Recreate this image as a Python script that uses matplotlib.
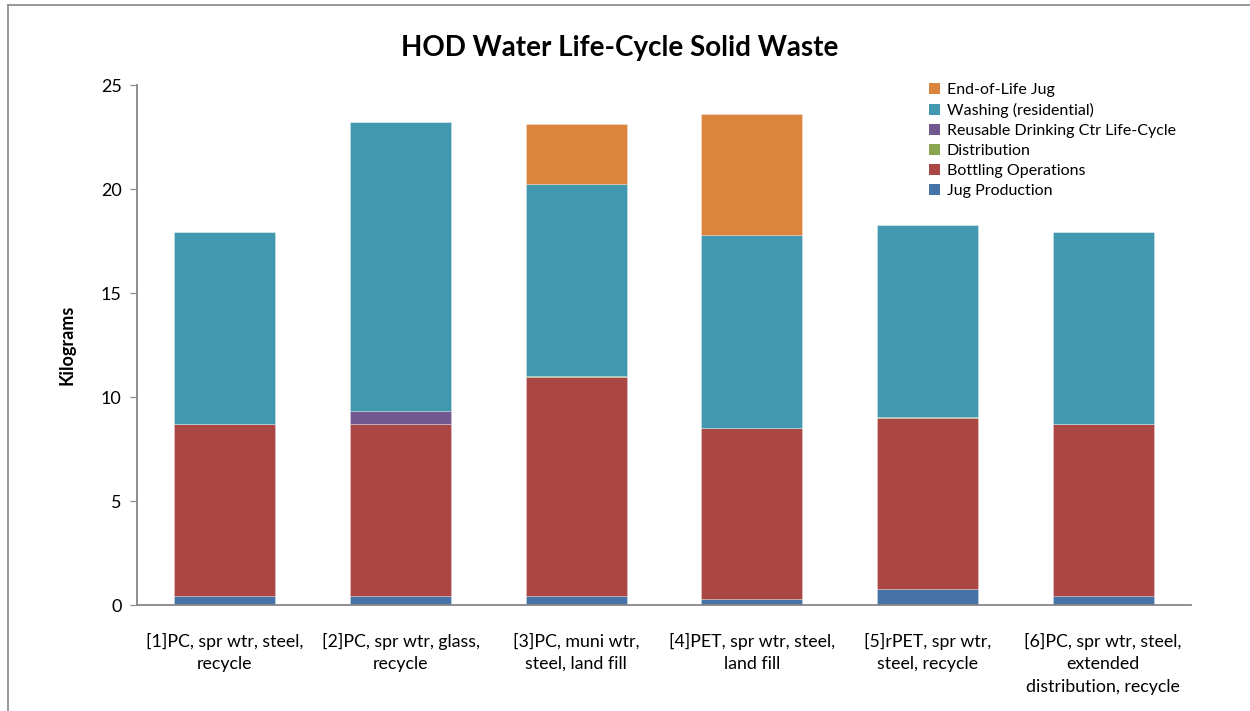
import matplotlib
matplotlib.use("Agg")
import matplotlib.pyplot as plt
import numpy as np
from matplotlib.lines import Line2D
from matplotlib.patches import Patch

plt.rcParams['font.family'] = ['Lato', 'DejaVu Sans']

categories = [
    "[1]PC, spr wtr, steel,\nrecycle",
    "[2]PC, spr wtr, glass,\nrecycle",
    "[3]PC, muni wtr,\nsteel, land fill",
    "[4]PET, spr wtr, steel,\nland fill",
    "[5]rPET, spr wtr,\nsteel, recycle",
    "[6]PC, spr wtr, steel,\nextended\ndistribution, recycle",
]

jug_production = [0.45, 0.45, 0.45, 0.30, 0.75, 0.45]
bottling_operations = [8.23, 8.23, 10.53, 8.20, 8.25, 8.23]
distribution = [0.02, 0.02, 0.02, 0.02, 0.02, 0.02]
reusable_ctr = [0.0, 0.64, 0.0, 0.0, 0.0, 0.0]
washing = [9.23, 13.88, 9.24, 9.25, 9.23, 9.23]
end_of_life = [0.0, 0.0, 2.90, 5.85, 0.0, 0.0]

series = [
    ("Jug Production", jug_production, "#4572A7"),
    ("Bottling Operations", bottling_operations, "#AA4643"),
    ("Distribution", distribution, "#89A54E"),
    ("Reusable Drinking Ctr Life-Cycle", reusable_ctr, "#71588F"),
    ("Washing (residential)", washing, "#4198AF"),
    ("End-of-Life Jug", end_of_life, "#DB843D"),
]

fig = plt.figure(figsize=(12.5, 7.11), dpi=100)
ax = fig.add_axes([137/1250, 1-605/711, (1191-137)/1250, (605-85)/711])

x = np.arange(len(categories))
bottom = np.zeros(len(categories))
handles = []
for name, vals, col in series:
    v = np.array(vals)
    ax.bar(x, v, width=0.575, bottom=bottom, color=col,
           edgecolor=(1, 1, 1, 0.3), linewidth=0.6, label=name)
    bottom += v
    handles.append((name, col))

ax.set_xlim(-0.5, len(categories) - 0.5)
ax.set_ylim(0, 25)
ax.set_yticks([0, 5, 10, 15, 20, 25])
ax.set_xticks(x)
ax.set_xticklabels(categories, fontsize=12.8, linespacing=1.5)
ax.tick_params(axis='x', length=0, pad=20)
ax.tick_params(axis='y', length=5, color='#868686', labelsize=13, pad=6)
for s in ['top', 'right']:
    ax.spines[s].set_visible(False)
for s in ['left', 'bottom']:
    ax.spines[s].set_color('#868686')
    ax.spines[s].set_linewidth(1.3)

ax.set_ylabel("Kilograms", fontsize=13, fontweight='bold', labelpad=18)

fig.text(620/1250, 1-48/711, "HOD Water Life-Cycle Solid Waste",
         ha='center', va='center', fontsize=20, fontweight='bold')

leg_handles = [Patch(facecolor=c, edgecolor='none', label=n) for n, c in reversed(handles)]
leg = ax.legend(handles=leg_handles, loc='upper left',
                bbox_to_anchor=(918/1250, 1-72/711), bbox_transform=fig.transFigure,
                frameon=False, fontsize=11.5, labelspacing=0.36,
                handlelength=0.7, handleheight=0.7, handletextpad=0.4,
                borderpad=0.2)

# chart area border
fig.add_artist(Line2D([8/1250, 1], [1-5/711, 1-5/711], transform=fig.transFigure,
                      color='#868686', linewidth=1.2))
fig.add_artist(Line2D([8/1250, 8/1250], [0, 1-5/711], transform=fig.transFigure,
                      color='#868686', linewidth=1.2))

fig.savefig("out.png", dpi=100)
